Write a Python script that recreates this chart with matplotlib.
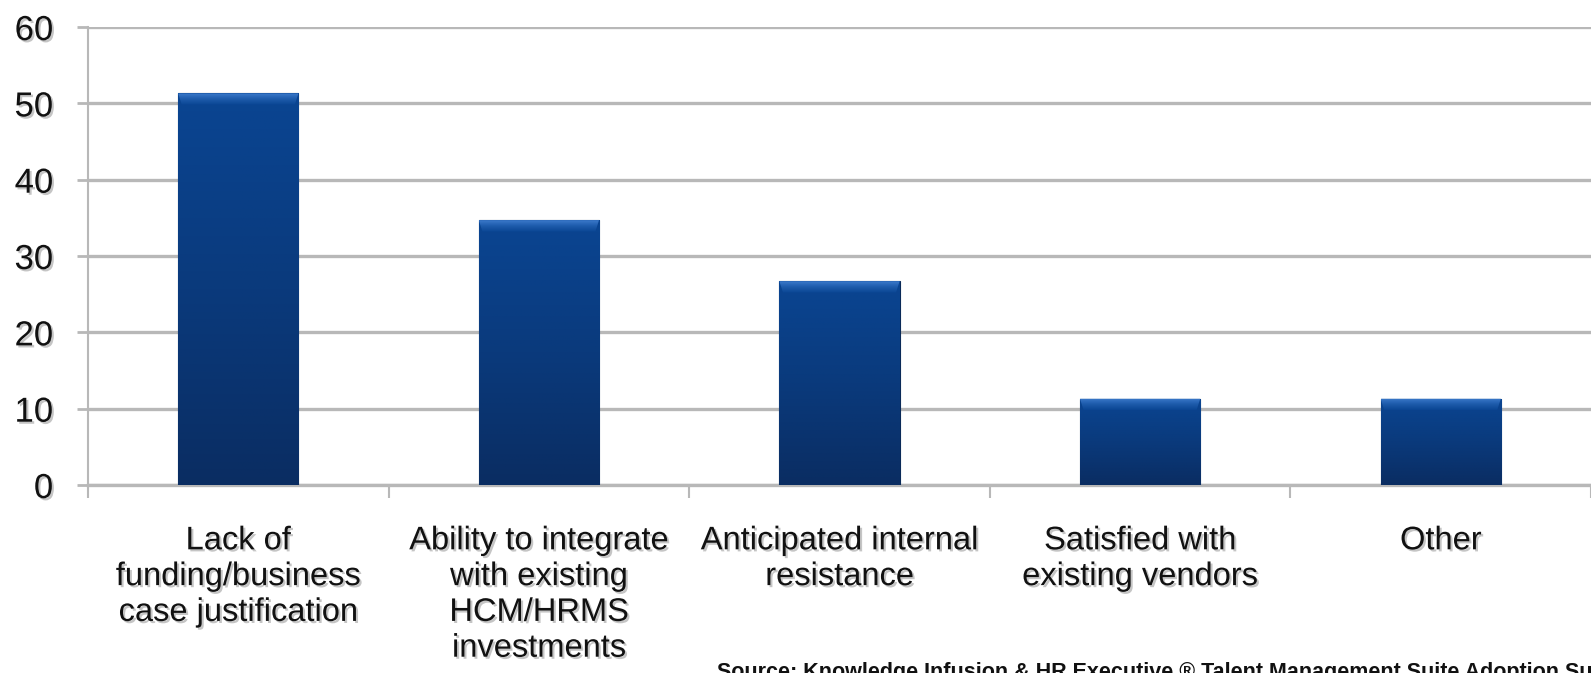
import numpy as np
import matplotlib
matplotlib.use("Agg")
import matplotlib.pyplot as plt
import matplotlib.patheffects as pe
from matplotlib.colors import LinearSegmentedColormap
from matplotlib.patches import Polygon

# --- data ---
categories = [
    "Lack of\nfunding/business\ncase justification",
    "Ability to integrate\nwith existing\nHCM/HRMS\ninvestments",
    "Anticipated internal\nresistance",
    "Satisfied with\nexisting vendors",
    "Other",
]
values = [51.3, 34.7, 26.7, 11.3, 11.3]
y_ticks = [0, 10, 20, 30, 40, 50, 60]
source_note = "Source: Knowledge Infusion & HR Executive \u00ae Talent Management Suite Adoption Survey"

plt.rcParams["font.family"] = ["Liberation Sans", "DejaVu Sans"]

fig = plt.figure(figsize=(15.91, 6.73), dpi=100)
ax = fig.add_axes([0.0553, 0.2793, 0.9447, 0.6805])

grid_col = "#b8b8b8"
shadow = [pe.withSimplePatchShadow(offset=(1.5, -1.5), shadow_rgbFace="#808080", alpha=0.45)]

x = np.arange(len(categories))
bars = ax.bar(x, values, width=0.40, color="#0a3f86", edgecolor="#0a2a58", linewidth=0.8, zorder=3)

# body gradient: dark at the bottom, brighter blue at the top
body_cmap = LinearSegmentedColormap.from_list("body", ["#0a2d62", "#0a3a7c", "#0a4592"])
# bevelled top rim
rim_cmap = LinearSegmentedColormap.from_list("rim", ["#0a4592", "#1d5bab", "#3c7acb"])
grad = np.linspace(0, 1, 256).reshape(-1, 1)
rim_h = 1.5
for b in bars:
    x0, w, h = b.get_x(), b.get_width(), b.get_height()
    im = ax.imshow(grad, cmap=body_cmap, origin="lower", aspect="auto",
                   extent=(x0, x0 + w, 0, h), zorder=3.1)
    im.set_clip_path(b)
    dx = 0.012
    rim = Polygon([(x0, h), (x0 + w, h), (x0 + w - dx, h - rim_h), (x0 + dx, h - rim_h)],
                  closed=True, facecolor="none", edgecolor="none", transform=ax.transData)
    ax.add_patch(rim)
    im2 = ax.imshow(grad, cmap=rim_cmap, origin="lower", aspect="auto",
                    extent=(x0, x0 + w, h - rim_h, h), zorder=3.2)
    im2.set_clip_path(rim)

ax.set_xlim(-0.5, len(categories) - 0.5)
ax.set_ylim(0, 60)
ax.set_yticks(y_ticks)
ax.set_yticklabels([str(t) for t in y_ticks], fontsize=25, path_effects=shadow)
ax.tick_params(axis="y", length=8, width=2, color=grid_col, pad=17, labelcolor="#111111")

ax.set_xticks(x)
ax.set_xticklabels(categories, fontsize=23.5, linespacing=1.2, path_effects=shadow, color="#111111")
ax.tick_params(axis="x", which="major", length=0, pad=29)
ax.set_xticks(np.arange(len(categories) + 1) - 0.5, minor=True)
ax.tick_params(axis="x", which="minor", length=9, width=1.5, color=grid_col)

ax.yaxis.grid(True, color=grid_col, linewidth=2.4, zorder=0)
ax.set_axisbelow(True)
for s in ["top", "right"]:
    ax.spines[s].set_visible(False)
ax.spines["left"].set_color(grid_col)
ax.spines["left"].set_linewidth(1.5)
ax.spines["bottom"].set_color(grid_col)
ax.spines["bottom"].set_linewidth(2.4)

# the source line runs off the lower right corner in the reference
fig.text(717 / 1591, 1 - 662 / 673, source_note, fontsize=15.5, fontweight="bold",
         ha="left", va="top", color="#111111")

fig.savefig("out.png", dpi=100, facecolor="white")
